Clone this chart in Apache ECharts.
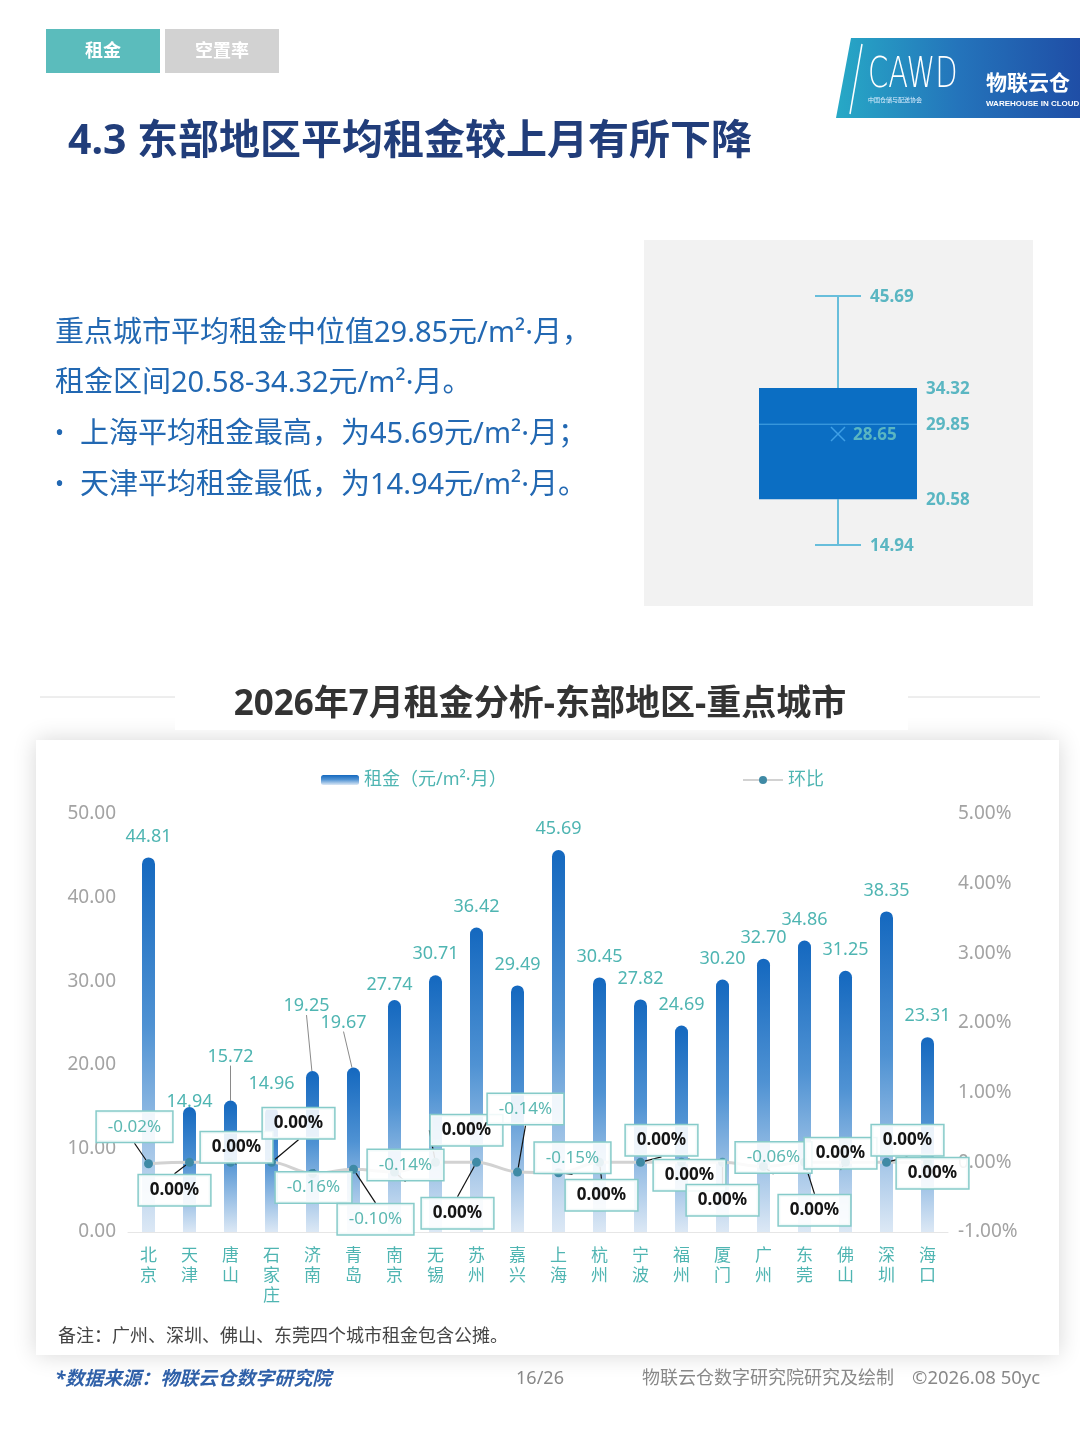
<!DOCTYPE html>
<html><head><meta charset="utf-8">
<script src="https://cdn.jsdelivr.net/npm/echarts@6/dist/echarts.min.js"></script>
<style>html,body{margin:0;padding:0;background:#fff;}#c{width:1080px;height:1439px;}</style>
</head><body><div id="c"></div>
<script>
// ---------- data ----------
const CITIES = ['北京','天津','唐山','石家庄','济南','青岛','南京','无锡','苏州','嘉兴','上海','杭州','宁波','福州','厦门','广州','东莞','佛山','深圳','海口'];
const RENT = [44.81,14.94,15.72,14.96,19.25,19.67,27.74,30.71,36.42,29.49,45.69,30.45,27.82,24.69,30.20,32.70,34.86,31.25,38.35,23.31];
const MOM = [-0.02,0.00,0.00,0.00,-0.16,-0.10,-0.14,0.00,0.00,-0.14,-0.15,0.00,0.00,0.00,0.00,-0.06,0.00,0.00,0.00,0.00];
const SERIES_NAMES = ['租金（元/m²·月）','环比'];
const BOX_STATS = [14.94, 20.58, 29.85, 34.32, 45.69]; // min, Q1, median, Q3, max
const BOX_MEAN = 28.65;

// ---------- label layout (positions only) ----------
const RENT_LABEL_SHIFT = {1:[0,16],2:[0,-23],3:[0,-2],4:[-6,-44],5:[-10,-24],6:[-5,6]};
const RENT_GUIDE = [2,4,5];
const MOM_LABEL_SHIFT = [[-14,-37],[-15,28],[6,-15],[27,-39],[1,14],[22,50],[11,-7],[31,-32],[-19,51],[8,-63],[14,-15],[2,33],[21,-22],[8,13],[0,38],[10,-9],[10,48],[-5,-9],[21,-22],[5,11]];

const FONT = '"Noto Sans","Noto Sans CJK SC",sans-serif';
const TEAL = '#4fb5b2';
const BLUE_TXT = '#2268b2';

const chart = echarts.init(document.getElementById('c'), null, {renderer:'canvas'});

function txt(x, y, text, o) {
  o = o || {};
  const el = {type:'text', x:x, y:y + (o.dy === undefined ? 2 : o.dy), z:o.z||3, silent:true, style:{
    text:text, fill:o.fill||'#333', fontSize:o.size||16, fontWeight:o.weight||'normal',
    fontStyle:o.style||'normal', fontFamily:o.family||FONT,
    align:o.align||'left', textAlign:o.align||'left',
    verticalAlign:'middle', textVerticalAlign:'middle'}};
  if (o.scaleY) el.scaleY = o.scaleY;
  if (o.scaleX) el.scaleX = o.scaleX;
  return el;
}

const graphics = [
  // tabs
  {type:'rect', shape:{x:46,y:29,width:114,height:44}, style:{fill:'#5bbcbc'}, z:1},
  {type:'rect', shape:{x:165,y:29,width:114,height:44}, style:{fill:'#d2d2d2'}, z:1},
  txt(103,50,'租金',{fill:'#fff',size:18,weight:'bold',align:'center'}),
  txt(222,50,'空置率',{fill:'#fff',size:18,weight:'bold',align:'center'}),
  // logo
  {type:'polygon', shape:{points:[[851,38],[1080,38],[1080,118],[836,118]]}, z:1,
   style:{fill:new echarts.graphic.LinearGradient(0,0,1,0,[{offset:0,color:'#27a9c6'},{offset:0.5,color:'#2474bb'},{offset:1,color:'#1f4ea6'}])}},
  {type:'line', shape:{x1:862,y1:44,x2:850,y2:114}, style:{stroke:'#fff',lineWidth:1.5}, z:2},
  txt(868,76,'CAWD',{fill:'#fff',size:29,family:'"DejaVu Sans", sans-serif',weight:'lighter',scaleY:1.45,dy:0}),
  txt(868,100,'中国仓储与配送协会',{fill:'#dfefff',size:6,family:'"Noto Sans CJK SC",sans-serif',dy:0}),
  txt(986,82,'物联云仓',{fill:'#fff',size:21,weight:'bold',family:'"Noto Sans CJK SC",sans-serif',dy:0}),
  txt(986,104,'WAREHOUSE IN CLOUD',{fill:'#fff',size:8,weight:'bold',family:'"Liberation Sans",sans-serif',dy:0}),
  // page title
  txt(68,140,'4.3 东部地区平均租金较上月有所下降',{fill:'#213d7a',size:41,weight:'bold'}),
  // summary text
  txt(55,331,'重点城市平均租金中位值29.85元/m²·月，',{fill:BLUE_TXT,size:29,dy:3}),
  txt(55,381,'租金区间20.58-34.32元/m²·月。',{fill:BLUE_TXT,size:29,dy:3}),
  txt(55,432,'•',{fill:BLUE_TXT,size:24}),
  txt(80,432,'上海平均租金最高，为45.69元/m²·月；',{fill:BLUE_TXT,size:29,dy:3}),
  txt(55,483,'•',{fill:BLUE_TXT,size:24}),
  txt(80,483,'天津平均租金最低，为14.94元/m²·月。',{fill:BLUE_TXT,size:29,dy:3}),
  // box panel
  {type:'rect', shape:{x:644,y:240,width:389,height:366}, style:{fill:'#f2f2f2'}, z:0},
  // section header
  {type:'line', shape:{x1:40,y1:697,x2:175,y2:697}, style:{stroke:'#dcdcdc',lineWidth:1}, z:0},
  {type:'line', shape:{x1:908,y1:697,x2:1040,y2:697}, style:{stroke:'#dcdcdc',lineWidth:1}, z:0},
  // chart card
  {type:'rect', shape:{x:36,y:740,width:1023,height:615}, z:0,
   style:{fill:'#fff', shadowBlur:22, shadowColor:'rgba(0,0,0,0.16)', shadowOffsetY:0}},
  {type:'rect', shape:{x:175,y:668,width:733,height:62}, style:{fill:'#fff'}, z:1},
  txt(540,703,'2026年7月租金分析-东部地区-重点城市',{fill:'#333',size:35,weight:'bold',align:'center'}),
  // note + footer
  txt(58,1335,'备注：广州、深圳、佛山、东莞四个城市租金包含公摊。',{fill:'#444',size:18}),
  txt(55,1378,'*数据来源：物联云仓数字研究院',{fill:'#2f60a8',size:19,weight:'bold',style:'italic'}),
  txt(540,1377,'16/26',{fill:'#888',size:18,align:'center'}),
  txt(642,1377,'物联云仓数字研究院研究及绘制',{fill:'#888',size:18}),
  txt(912,1377,'©2026.08 50yc',{fill:'#888',size:18.5})
];

const barGradient = new echarts.graphic.LinearGradient(0,0,0,1,[
  {offset:0,color:'#1468bf'},{offset:0.45,color:'#4f92d3'},{offset:1,color:'#dce8f5'}]);

const option = {
  animation:false,
  backgroundColor:'#fff',
  textStyle:{fontFamily:FONT},
  graphic:graphics,
  legend:[
    {data:[SERIES_NAMES[0]], left:316, top:766, icon:'roundRect', itemWidth:38, itemHeight:10, itemGap:8,
     textStyle:{color:TEAL, fontSize:18, fontFamily:FONT}},
    {data:[SERIES_NAMES[1]], left:737, top:766, itemWidth:40, itemHeight:10,
     textStyle:{color:TEAL, fontSize:18, fontFamily:FONT}}
  ],
  grid:[
    {left:128, right:132, top:814, bottom:207},
    {left:680, width:316, top:261, height:324}
  ],
  xAxis:[
    {type:'category', gridIndex:0, data:CITIES,
     axisLine:{lineStyle:{color:'#e6e6e6'}}, axisTick:{show:false},
     axisLabel:{interval:0, color:TEAL, fontSize:17, lineHeight:20, margin:14, fontFamily:FONT,
       formatter:s=>s.split('').join('\n')}},
    {type:'category', gridIndex:1, data:[''], show:false}
  ],
  yAxis:[
    {type:'value', gridIndex:0, min:0, max:50, interval:10, position:'left',
     axisLine:{show:false}, axisTick:{show:false}, splitLine:{show:false},
     axisLabel:{color:'#a3a3a3', fontSize:19, margin:12, formatter:v=>v.toFixed(2)}},
    {type:'value', gridIndex:0, min:-1, max:5, interval:1, position:'right',
     axisLine:{show:false}, axisTick:{show:false}, splitLine:{show:false},
     axisLabel:{color:'#a3a3a3', fontSize:19, margin:10, formatter:v=>v.toFixed(2)+'%'}},
    {type:'value', gridIndex:1, min:10, max:50, show:false}
  ],
  series:[
    {name:SERIES_NAMES[0], type:'bar', xAxisIndex:0, yAxisIndex:0, barWidth:13,
     data:RENT.map((v,i)=>({value:v, labelLine:{show:RENT_GUIDE.indexOf(i)>=0}})),
     itemStyle:{color:barGradient, borderRadius:[7,7,0,0]},
     label:{show:true, position:'top', distance:12, color:TEAL, fontSize:18, fontFamily:FONT,
       formatter:p=>Number(p.value).toFixed(2)},
     labelLine:{show:false, lineStyle:{color:'#8a8a8a', width:1}},
     labelLayout:function(p){const o=RENT_LABEL_SHIFT[p.dataIndex]; return o?{dx:o[0],dy:o[1]}:{};},
     z:2},
    {name:SERIES_NAMES[1], type:'line', xAxisIndex:0, yAxisIndex:1, data:MOM, smooth:0.35,
     symbol:'circle', symbolSize:9,
     lineStyle:{color:'#d2d2d2', width:3},
     itemStyle:{color:'#3f8aa5'},
     label:{show:true, position:'inside', padding:[5,11], lineHeight:20,
       backgroundColor:'rgba(255,255,255,0.88)', borderColor:'#86cbc9', borderWidth:1.5,
       formatter:p=>(p.value<0?'{n|':'{z|')+Number(p.value).toFixed(2)+'%}',
       rich:{n:{color:'#5cb8b2', fontSize:17, fontFamily:FONT},
             z:{color:'#151515', fontSize:17, fontWeight:'bold', fontFamily:FONT}}},
     labelLine:{show:true, lineStyle:{color:'#111', width:1.2}},
     labelLayout:function(p){const o=MOM_LABEL_SHIFT[p.dataIndex]; return {dx:o[0],dy:o[1]};},
     z:5},
    {type:'custom', xAxisIndex:1, yAxisIndex:2, silent:true,
     data:[[0].concat(BOX_STATS,[BOX_MEAN])],
     encode:{x:0, y:[1,2,3,4,5,6]},
     renderItem:function(params, api){
       const c = v => api.coord([0, v]);
       const cx = c(api.value(1))[0];
       const yMin=c(api.value(1))[1], yQ1=c(api.value(2))[1], yMed=c(api.value(3))[1],
             yQ3=c(api.value(4))[1], yMax=c(api.value(5))[1], yMean=c(api.value(6))[1];
       const bw=158, cw=46;
       const ws={stroke:'#68bedb', lineWidth:2};
       const lab=(x,y,v)=>({type:'text', x:x, y:y+1, style:{text:Number(v).toFixed(2), fill:'#5ab6c2',
          fontSize:17, fontWeight:'bold', fontFamily:FONT, align:'left', verticalAlign:'middle'}});
       return {type:'group', children:[
         {type:'line', shape:{x1:cx,y1:yMax,x2:cx,y2:yQ3}, style:ws},
         {type:'line', shape:{x1:cx,y1:yQ1,x2:cx,y2:yMin}, style:ws},
         {type:'line', shape:{x1:cx-cw/2,y1:yMax,x2:cx+cw/2,y2:yMax}, style:ws},
         {type:'line', shape:{x1:cx-cw/2,y1:yMin,x2:cx+cw/2,y2:yMin}, style:ws},
         {type:'rect', shape:{x:cx-bw/2,y:yQ3,width:bw,height:yQ1-yQ3}, style:{fill:'#0b6ec3'}},
         {type:'line', shape:{x1:cx-bw/2,y1:yMed,x2:cx+bw/2,y2:yMed}, style:{stroke:'#4aa7e6',lineWidth:1}},
         {type:'line', shape:{x1:cx-7,y1:yMean-7,x2:cx+7,y2:yMean+7}, style:{stroke:'#3f9fe6',lineWidth:1.5}},
         {type:'line', shape:{x1:cx-7,y1:yMean+7,x2:cx+7,y2:yMean-7}, style:{stroke:'#3f9fe6',lineWidth:1.5}},
         lab(cx+15, yMean, api.value(6)),
         lab(cx+32, yMax, api.value(5)),
         lab(cx+88, yQ3, api.value(4)),
         lab(cx+88, yMed, api.value(3)),
         lab(cx+88, yQ1, api.value(2)),
         lab(cx+32, yMin, api.value(1))
       ]};
     }}
  ]
};
chart.setOption(option);
</script>
</body></html>
